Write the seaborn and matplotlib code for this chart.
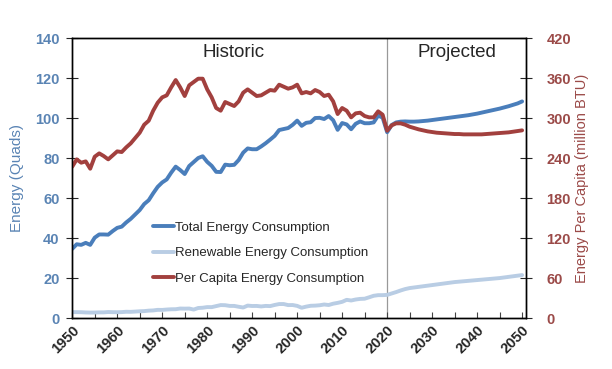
"""
Recreate the US energy consumption chart (historic + projected).
"""
import matplotlib
matplotlib.use("Agg")
import matplotlib.pyplot as plt
import numpy as np
import pandas as pd
import seaborn as sns
from matplotlib.lines import Line2D
from matplotlib.ticker import MultipleLocator

# Years: historic 1950-2020, projected 2021-2050
hist_years = list(range(1950, 2021))
proj_years = list(range(2021, 2051))

# Total energy consumption (quads)
total_hist = [
    34.6, 36.9, 36.6, 37.6, 36.6, 40.2, 41.8, 41.8, 41.7, 43.5,
    45.1, 45.7, 47.8, 49.6, 51.8, 54.0, 57.0, 58.9, 62.4, 65.6,
    67.8, 69.3, 72.7, 75.7, 74.0, 72.0, 76.0, 78.0, 80.0, 80.9,
    78.1, 76.1, 73.1, 73.0, 76.7, 76.4, 76.6, 79.0, 82.7, 84.8,
    84.4, 84.4, 85.8, 87.4, 89.2, 91.1, 94.0, 94.5, 95.0, 96.6,
    98.7, 96.1, 97.6, 97.9, 100.0, 100.1, 99.5, 101.0, 98.9, 94.1,
    97.5, 96.8, 94.4, 97.1, 98.3, 97.4, 97.4, 97.8, 101.2, 100.2,
    92.9,
]
total_proj = [
    96.5, 97.8, 98.2, 98.3, 98.2, 98.2, 98.3, 98.5, 98.7, 99.0,
    99.3, 99.6, 99.9, 100.2, 100.5, 100.8, 101.1, 101.4, 101.8, 102.2,
    102.7, 103.2, 103.7, 104.2, 104.7, 105.3, 105.9, 106.6, 107.3, 108.3,
]

# Renewable energy consumption (quads)
renew_hist = [
    2.98, 2.96, 2.94, 2.81, 2.75, 2.78, 2.85, 2.86, 3.03, 2.95,
    2.93, 2.98, 3.16, 3.11, 3.25, 3.40, 3.49, 3.72, 3.82, 4.11,
    4.08, 4.27, 4.40, 4.43, 4.77, 4.72, 4.77, 4.25, 5.04, 5.17,
    5.49, 5.47, 5.99, 6.50, 6.44, 6.08, 6.08, 5.66, 5.28, 6.24,
    6.04, 6.07, 5.82, 6.08, 5.99, 6.56, 7.01, 7.02, 6.49, 6.52,
    6.10, 5.16, 5.73, 6.15, 6.23, 6.41, 6.79, 6.53, 7.19, 7.60,
    8.12, 9.12, 8.79, 9.28, 9.59, 9.68, 10.39, 11.14, 11.46, 11.46,
    11.59,
]
renew_proj = [
    12.3, 13.0, 13.8, 14.5, 15.0, 15.3, 15.6, 15.9, 16.2, 16.5,
    16.8, 17.1, 17.4, 17.7, 18.0, 18.2, 18.4, 18.6, 18.8, 19.0,
    19.2, 19.4, 19.6, 19.8, 20.0, 20.3, 20.6, 20.9, 21.2, 21.5,
]

# Per capita energy consumption (million BTU)
percap_hist = [
    227, 238, 233, 235, 224, 242, 247, 243, 238, 244,
    250, 249, 256, 262, 270, 278, 290, 296, 311, 323,
    331, 334, 346, 357, 346, 333, 349, 354, 359, 359,
    343, 331, 315, 311, 324, 321, 318, 325, 338, 343,
    338, 333, 334, 338, 342, 341, 350, 347, 344, 346,
    350, 337, 339, 337, 342, 339, 333, 335, 325, 306,
    315, 311, 301, 307, 308, 303, 301, 301, 310, 305,
    281,
]
percap_proj = [
    289, 292, 292, 290, 287, 285, 283, 281.5, 280, 279,
    278, 277.5, 277, 276.5, 276, 276, 275.5, 275.5, 275.5, 275.5,
    275.5, 276, 276.5, 277, 277.5, 278, 278.5, 279.5, 280.5, 281.5,
]

labels = ["Total Energy Consumption", "Renewable Energy Consumption",
          "Per Capita Energy Consumption"]

BLUE = "#4a7ebb"
LIGHT = "#b9cde4"
RED = "#a2403e"
LEFT_TXT = "#5a84b4"
RIGHT_TXT = "#9b4a48"

years = hist_years + proj_years
df = pd.DataFrame({
    "year": years,
    "total": total_hist + total_proj,
    "renew": renew_hist + renew_proj,
    "percap": percap_hist + percap_proj,
})

sns.set_theme(style="ticks")
plt.rcParams["font.family"] = ["Liberation Sans", "DejaVu Sans"]

fig = plt.figure(figsize=(6.12, 3.69), dpi=100)
ax = fig.add_axes([0.118, 0.138, 0.741, 0.759])
ax2 = ax.twinx()

sns.lineplot(data=df, x="year", y="renew", ax=ax, color=LIGHT, lw=2.8)
sns.lineplot(data=df, x="year", y="total", ax=ax, color=BLUE, lw=2.8)
sns.lineplot(data=df, x="year", y="percap", ax=ax2, color=RED, lw=2.8)

ax.axvline(2020, color="#999999", lw=0.9, zorder=0)

ax.set_xlim(1950, 2050.8)
ax.set_ylim(0, 140)
ax2.set_ylim(0, 420)
ax.yaxis.set_major_locator(MultipleLocator(20))
ax2.yaxis.set_major_locator(MultipleLocator(60))
ax.xaxis.set_major_locator(MultipleLocator(10))
ax.xaxis.set_minor_locator(MultipleLocator(5))

for a in (ax, ax2):
    for s in a.spines.values():
        s.set_visible(True)
        s.set_color("black")
        s.set_linewidth(1.0)

ax.tick_params(axis="x", which="both", direction="in", length=4, width=0.8,
               color="#444444")
ax.tick_params(axis="y", direction="inout", length=8, width=0.8,
               labelcolor=LEFT_TXT, labelsize=10.5, pad=5)
ax2.tick_params(axis="y", direction="inout", length=8, width=0.8,
                labelcolor=RIGHT_TXT, labelsize=10.5, pad=11)
for t in ax.get_yticklabels():
    t.set_fontweight("bold")
for t in ax2.get_yticklabels():
    t.set_fontweight("bold")
ax.set_xticklabels([f"{int(v)}" for v in ax.get_xticks()])
for t in ax.get_xticklabels():
    t.set_rotation(45)
    t.set_fontweight("bold")
    t.set_fontsize(10.5)
    t.set_ha("right")
    t.set_rotation_mode("anchor")

ax.set_xlabel("")
ax.set_ylabel("Energy (Quads)", color=LEFT_TXT, fontsize=11, labelpad=8)
ax2.set_ylabel("Energy Per Capita (million BTU)", color=RIGHT_TXT,
               fontsize=10.5, labelpad=3)

ax.text(1985.8, 133, "Historic", fontsize=13.5, ha="center", va="center")
ax.text(2035.6, 133, "Projected", fontsize=13.5, ha="center", va="center")

handles = [Line2D([], [], color=c, lw=2.8) for c in (BLUE, LIGHT, RED)]
ax.legend(handles, labels, loc="center left", bbox_to_anchor=(0.178, 0.232),
          frameon=False, fontsize=9.5, handlelength=1.6, handletextpad=0.1,
          labelspacing=1.0, borderpad=0, borderaxespad=0)

fig.savefig("out.png", dpi=100)
